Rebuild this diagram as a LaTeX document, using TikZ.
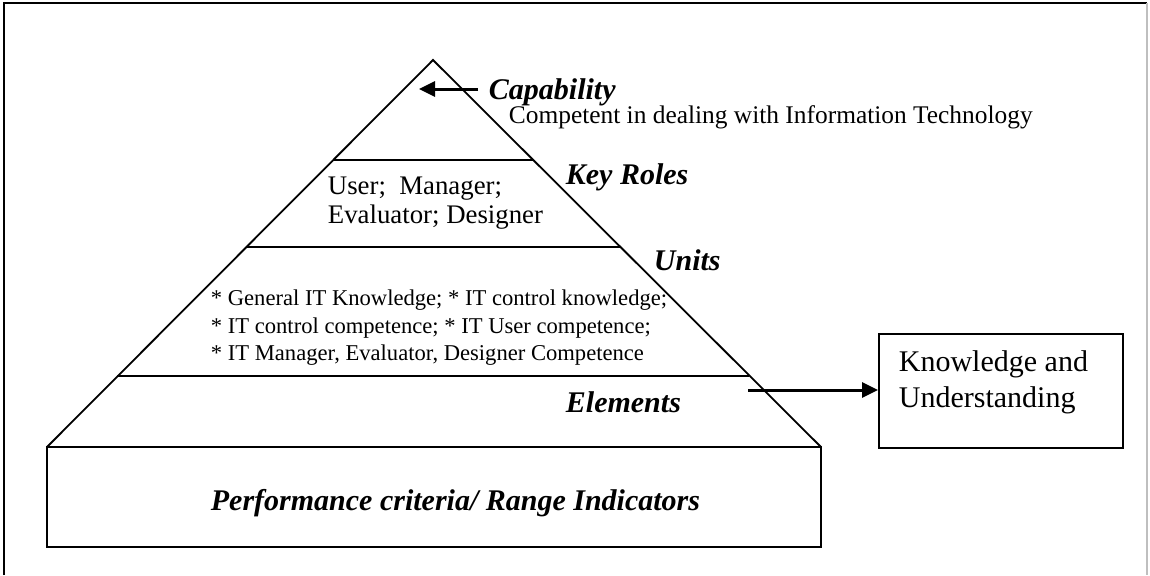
\documentclass[tikz,border=0pt]{standalone}
\usepackage{fontspec}
\setmainfont{Liberation Serif}
\usetikzlibrary{arrows.meta}

\begin{document}
\begin{tikzpicture}[x=0.5pt,y=-0.5pt,>={Triangle[length=8pt,width=7.5pt]},line width=0.9pt,
    head/.style={inner sep=0pt,anchor=base west,font=\fontsize{15}{18}\selectfont\bfseries\itshape},
    txt/.style={inner sep=0pt,anchor=west,align=left}]
  \useasboundingbox (0,0) rectangle (1150,575);
  \draw[line width=1pt] (4,575) -- (4,3) -- (1147,3);
  \draw[gray!50] (1147,3) -- (1147,575);

  \draw (47,447) -- (433,60) -- (821,447);
  \foreach \y in {160,247,376}
    \draw (493-\y,\y) -- (373+\y,\y);
  \draw[line width=1pt] (47,447) rectangle (821,547);

  \node[head] (cap) at (488,99) {Capability};
  \node[inner sep=0pt,anchor=base west,font=\fontsize{12.7}{15}\selectfont] (comp) at (508,123) {Competent in dealing with Information Technology};
  \node[head] (roles) at (565,184) {Key Roles};
  \node[head] (units) at (653,270) {Units};
  \node[head] (elem) at (565,412) {Elements};
  \node[head] (perf) at (210,510) {Performance criteria/ Range Indicators};
  \node[txt,font=\fontsize{13.4}{14.8}\selectfont] (roleslist) at (327,203) {User;\ \ Manager;\\Evaluator; Designer};
  \node[txt,font=\fontsize{11.3}{13.75}\selectfont] (unitslist) at (210,328) {* General IT Knowledge; * IT control knowledge;\\* IT control competence; * IT User competence;\\* IT Manager, Evaluator, Designer Competence};

  \node[draw,line width=1pt,minimum width=122pt,minimum height=57pt,anchor=north west] (ku) at (878,333) {};
  \node[txt,font=\fontsize{15}{18}\selectfont] (kutext) at (898,382) {Knowledge and\\Understanding};

  \coordinate (captail) at (478,89);
  \coordinate (captip) at (419,89);
  \coordinate (elemtail) at (748,390);
  \draw[->,line width=1.5pt] (captail) -- (captip);
  \draw[->,line width=1.5pt] (elemtail) -- (elemtail -| ku.west);
\end{tikzpicture}
\end{document}
